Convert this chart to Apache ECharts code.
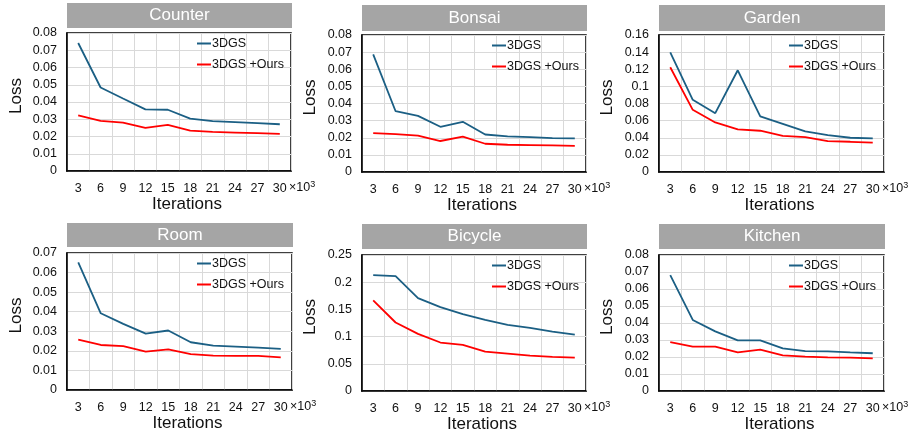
<!DOCTYPE html>
<html>
<head>
<meta charset="utf-8">
<script src="https://cdn.jsdelivr.net/npm/echarts@6/dist/echarts.min.js"></script>
<style>
html,body{margin:0;padding:0;background:#fff;}
#chart{width:909px;height:435px;}
</style>
</head>
<body>
<div id="chart"></div>
<script>
// ---- data ----
var categories = ['3','6','9','12','15','18','21','24','27','30'];
var seriesNames = ['3DGS', '3DGS +Ours'];
var panelTitles = ['Counter','Bonsai','Garden','Room','Bicycle','Kitchen'];

var counter3dgs = [0.0742,0.0484,0.0420,0.0357,0.0355,0.0304,0.0289,0.0283,0.0277,0.0271];
var counterOurs = [0.0322,0.0290,0.0281,0.0250,0.0267,0.0234,0.0227,0.0223,0.0219,0.0215];
var bonsai3dgs  = [0.0687,0.0355,0.0328,0.0264,0.0293,0.0219,0.0208,0.0204,0.0198,0.0196];
var bonsaiOurs  = [0.0227,0.0221,0.0212,0.0181,0.0206,0.0165,0.0159,0.0157,0.0155,0.0153];
var garden3dgs  = [0.1398,0.0843,0.0687,0.1188,0.0649,0.0563,0.0474,0.0431,0.0400,0.0392];
var gardenOurs  = [0.1223,0.0726,0.0579,0.0497,0.0482,0.0423,0.0408,0.0361,0.0353,0.0342];
var room3dgs    = [0.0652,0.0392,0.0338,0.0288,0.0304,0.0244,0.0227,0.0222,0.0217,0.0210];
var roomOurs    = [0.0258,0.0230,0.0224,0.0196,0.0208,0.0183,0.0176,0.0174,0.0174,0.0167];
var bicycle3dgs = [0.2131,0.2113,0.1708,0.1542,0.1413,0.1308,0.1216,0.1161,0.1093,0.1038];
var bicycleOurs = [0.1665,0.1259,0.1050,0.0891,0.0848,0.0725,0.0688,0.0651,0.0627,0.0614];
var kitchen3dgs = [0.0682,0.0418,0.0351,0.0298,0.0298,0.0251,0.0235,0.0233,0.0227,0.0222];
var kitchenOurs = [0.0288,0.0261,0.0261,0.0227,0.0243,0.0210,0.0202,0.0198,0.0196,0.0192];

var yMax      = [0.08, 0.08, 0.16, 0.07, 0.25, 0.08];
var yInterval = [0.01, 0.01, 0.02, 0.01, 0.05, 0.01];

var panelData = [
  [counter3dgs, counterOurs],
  [bonsai3dgs, bonsaiOurs],
  [garden3dgs, gardenOurs],
  [room3dgs, roomOurs],
  [bicycle3dgs, bicycleOurs],
  [kitchen3dgs, kitchenOurs]
];

// ---- layout (not data) ----
var layout = [
  {left:67,  top:33,  width:224, height:138, tTop:3,   tH:25, yGap:42, xGap:20},
  {left:362, top:35,  width:224, height:137, tTop:5,   tH:26, yGap:43, xGap:21},
  {left:659, top:35,  width:225, height:137, tTop:5,   tH:26, yGap:43, xGap:21},
  {left:67,  top:253, width:225, height:137, tTop:223, tH:24, yGap:42, xGap:23},
  {left:362, top:255, width:224, height:136, tTop:224, tH:25, yGap:43, xGap:24},
  {left:659, top:255, width:225, height:136, tTop:224, tH:25, yGap:43, xGap:24}
];
var COLORS = ['#1B5F84', '#FF0000'];
var FONT = '"Liberation Sans", Arial, sans-serif';

var grids = [], xAxes = [], yAxes = [], series = [], legends = [], graphics = [];
layout.forEach(function (L, i) {
  grids.push({left:L.left, top:L.top, width:L.width, height:L.height,
    show:true, borderColor:'#000', borderWidth:1.5, backgroundColor:'transparent'});
  xAxes.push({
    type:'category', gridIndex:i, data:categories, boundaryGap:true,
    axisLine:{show:true, lineStyle:{color:'#000', width:1.5}},
    axisTick:{show:false},
    axisLabel:{color:'#111', fontSize:12.5, fontFamily:FONT, margin:11, interval:0},
    splitLine:{show:true, interval:0, lineStyle:{color:'#D9D9D9', width:1}},
    name:'Iterations', nameLocation:'middle', nameGap:L.xGap + 1,
    nameTextStyle:{fontSize:17, color:'#111', fontFamily:FONT, padding:[0,0,0,16]}
  });
  yAxes.push({
    type:'value', gridIndex:i, min:0, max:yMax[i], interval:yInterval[i],
    axisLine:{show:true, lineStyle:{color:'#000', width:1.5}},
    axisTick:{show:false},
    axisLabel:{color:'#111', fontSize:12.5, fontFamily:FONT, margin:10,
      formatter:function(v){ return String(+v.toFixed(4)); }},
    splitLine:{show:true, lineStyle:{color:'#D9D9D9', width:1}},
    name:'Loss', nameLocation:'middle', nameGap:L.yGap,
    nameTextStyle:{fontSize:17, color:'#111', fontFamily:FONT, padding:[0,0,0,12]}
  });
  panelData[i].forEach(function (arr, k) {
    series.push({
      type:'line', name:seriesNames[k], xAxisIndex:i, yAxisIndex:i,
      data:arr, symbol:'none', smooth:false,
      lineStyle:{color:COLORS[k], width:1.8}, itemStyle:{color:COLORS[k]},
      z: k === 0 ? 3 : 4, animation:false
    });
  });
  legends.push({
    left:L.left + 130, top:L.top + 4, orient:'vertical', padding:0,
    data:seriesNames.map(function(n){ return {name:n, icon:'rect'}; }),
    itemWidth:14, itemHeight:2, itemGap:8,
    textStyle:{fontSize:12.5, color:'#111', fontFamily:FONT, padding:[0,0,0,-4]},
    selectedMode:false
  });
  graphics.push({
    type:'rect', left:L.left, top:L.tTop, silent:true,
    shape:{width:L.width + 1, height:L.tH}, style:{fill:'#A5A5A5'}
  });
  graphics.push({
    type:'text', silent:true,
    x:L.left + (L.width + 1) / 2, y:L.tTop + L.tH / 2,
    style:{text:panelTitles[i], fill:'#fff', fontSize:17, fontFamily:FONT,
      align:'center', verticalAlign:'middle'}
  });
  graphics.push({
    type:'text', silent:true,
    x:L.left + L.width - 2, y:L.top + L.height + 17,
    style:{text:'{a|×10}{b|3}', align:'left', verticalAlign:'middle',
      rich:{a:{fontSize:12.5, fill:'#111', fontFamily:FONT},
            b:{fontSize:9, fill:'#111', fontFamily:FONT, verticalAlign:'top', padding:[0,0,6,0]}}}
  });
});

var chart = echarts.init(document.getElementById('chart'), null, {renderer:'canvas'});
chart.setOption({
  animation:false,
  backgroundColor:'#fff',
  grid:grids, xAxis:xAxes, yAxis:yAxes, series:series, legend:legends,
  graphic:{elements:graphics}
});
</script>
</body>
</html>
